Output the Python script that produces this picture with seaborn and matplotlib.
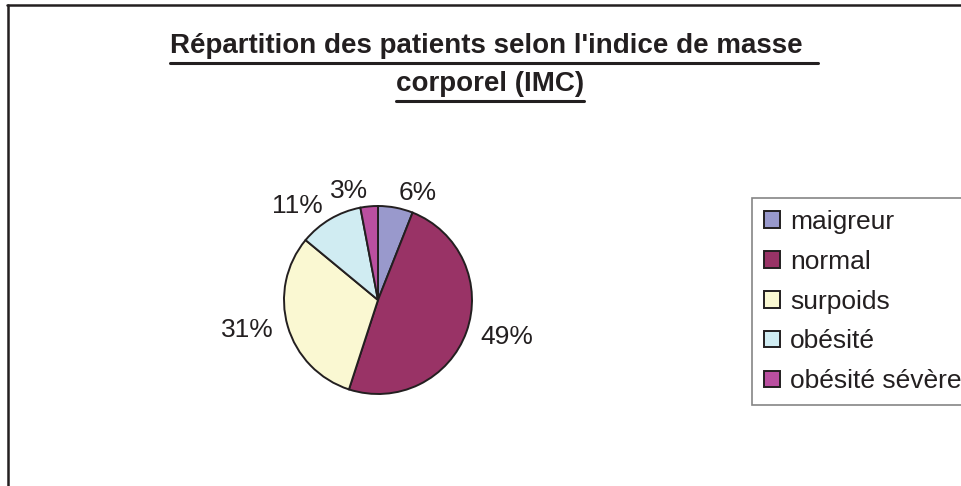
"""Pie chart: patients by body mass index (IMC)"""
import matplotlib
matplotlib.use("Agg")
import matplotlib.pyplot as plt
from matplotlib.lines import Line2D
import seaborn as sns

# Data
categories = ["maigreur", "normal", "surpoids", "obésité", "obésité sévère"]
percents = [6, 49, 31, 11, 3]
colors = ["#9999CC", "#993366", "#FAF8D2", "#D0ECF2", "#BA4FA0"]
title_lines = ["Répartition des patients selon l'indice de masse ", "corporel (IMC)"]

sns.set_theme(style="white")
plt.rcParams["font.family"] = ["Liberation Sans", "DejaVu Sans"]
ink = "#231F20"

W, H = 961, 486
fig = plt.figure(figsize=(W / 100, H / 100), dpi=100)
fig.patch.set_facecolor("white")

# pie axes: centre (378, 300) px, radius 94 px, limits +-1.25
r_px = 94
side = 2.5 * r_px
ax = fig.add_axes([(378 - side / 2) / W, (H - 300 - side / 2) / H, side / W, side / H])
wedges, texts = ax.pie(
    percents,
    labels=[f"{p}%" for p in percents],
    colors=sns.color_palette(colors),
    startangle=90,
    counterclock=False,
    labeldistance=1.16,
    wedgeprops={"edgecolor": ink, "linewidth": 1.4},
    textprops={"fontsize": 19, "color": ink},
)
ax.set_xlim(-1.25, 1.25)
ax.set_ylim(-1.25, 1.25)
ax.set_aspect("equal")

# legend (its right side runs off the figure, as in the original)
leg = fig.legend(
    wedges, categories,
    loc="upper left", bbox_to_anchor=(752 / W, 1 - 198 / H),
    borderaxespad=0, fontsize=19, frameon=True, fancybox=False,
    edgecolor="#666666", handlelength=0.6, handleheight=0.6,
    handletextpad=0.4, labelspacing=0.6, borderpad=0.45,
)
leg.get_frame().set_linewidth(1.2)
for t in leg.get_texts():
    t.set_color(ink)

# title, bold and underlined
baselines = [53, 91]
title_texts = []
for line, yb in zip(title_lines, baselines):
    t = fig.text(490 / W, 1 - yb / H, line, ha="center", va="baseline",
                 fontsize=20, fontweight="bold", color=ink)
    title_texts.append(t)

fig.canvas.draw()
renderer = fig.canvas.get_renderer()
for t, yb in zip(title_texts, baselines):
    bb = t.get_window_extent(renderer)
    x1 = bb.x1
    if t.get_text().endswith(" "):
        x1 += 0.278 * 20 * 100 / 72
    y = 1 - (yb + 10) / H
    fig.add_artist(Line2D([bb.x0 / W, x1 / W], [y, y], transform=fig.transFigure,
                          color=ink, linewidth=2.2))

# chart area border (right and bottom edges fall outside the image)
fig.add_artist(Line2D([7.5 / W, 7.5 / W], [0, 1 - 5 / H], transform=fig.transFigure,
                      color=ink, linewidth=1.8))
fig.add_artist(Line2D([7 / W, 1], [1 - 5.5 / H, 1 - 5.5 / H], transform=fig.transFigure,
                      color=ink, linewidth=1.8))

fig.savefig("out.png", dpi=100)
